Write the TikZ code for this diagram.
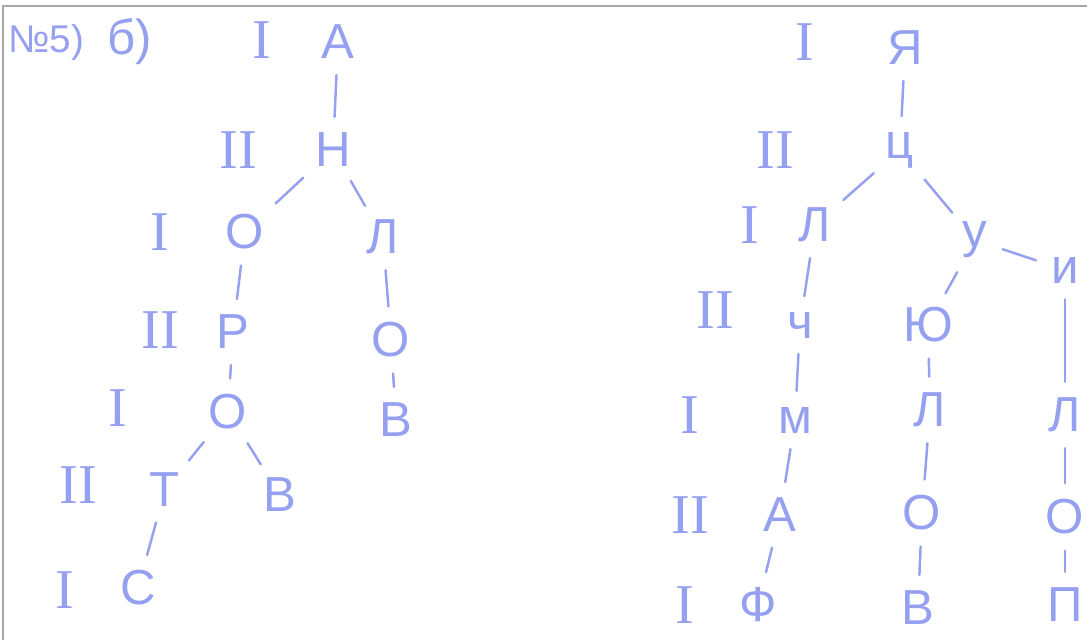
\documentclass[tikz,border=0pt]{standalone}
\usepackage{fontspec}
\setmainfont{Liberation Sans}
\newfontfamily\romanfont{Liberation Serif}
\definecolor{handblue}{RGB}{150,160,240}

\tikzset{
  letter/.style={text=handblue, inner sep=0pt, font=\fontsize{28}{34}\selectfont},
  level/.style={text=handblue, inner sep=0pt, font=\romanfont\fontsize{32}{38}\selectfont},
  branch/.style={draw=handblue, line width=1.4pt, line cap=round, shorten <=9pt, shorten >=9pt}
}

\begin{document}
\begin{tikzpicture}[x=0.02cm, y=-0.02cm]

  \useasboundingbox (0,0) rectangle (1087,640);

  % frame of the scan
  \draw[gray!70, line width=1.2pt] (3,640) -- (3,6) -- (1087,6);

  % heading
  \node[letter, font=\fontsize{22}{28}\selectfont] (num) at (46,42) {№5)};
  \node[letter] (sub) at (130,42) {б)};

  % left tree
  \node[letter] (a) at (338,42) {А};
  \node[letter] (n) at (333,150) {Н};
  \node[letter] (o1) at (245,232) {О};
  \node[letter] (l1) at (383,237) {Л};
  \node[letter] (r) at (233,332) {Р};
  \node[letter] (o2) at (391,340) {О};
  \node[letter] (o3) at (228,412) {О};
  \node[letter] (v1) at (396,420) {В};
  \node[letter] (t) at (165,490) {Т};
  \node[letter] (v2) at (280,495) {В};
  \node[letter] (s) at (138,588) {С};

  \node[level] at (262,40) {I};
  \node[level] at (238,150) {II};
  \node[level] at (160,232) {I};
  \node[level] at (160,330) {II};
  \node[level] at (118,408) {I};
  \node[level] at (78,485) {II};
  \node[level] at (65,590) {I};

  \draw[branch] (a) -- (n);
  \draw[branch] (n) -- (o1);
  \draw[branch] (n) -- (l1);
  \draw[branch] (o1) -- (r);
  \draw[branch] (l1) -- (o2);
  \draw[branch] (r) -- (o3);
  \draw[branch] (o2) -- (v1);
  \draw[branch] (o3) -- (t);
  \draw[branch] (o3) -- (v2);
  \draw[branch] (t) -- (s);

  % right tree
  \node[letter] (ya) at (905,48) {Я};
  \node[letter] (c) at (900,150) {ц};
  \node[letter] (l2) at (815,225) {Л};
  \node[letter] (u) at (975,240) {у};
  \node[letter] (i) at (1065,270) {и};
  \node[letter] (ch) at (800,325) {ч};
  \node[letter] (yu) at (928,325) {Ю};
  \node[letter] (m) at (795,420) {м};
  \node[letter] (l3) at (930,410) {Л};
  \node[letter] (l4) at (1065,415) {Л};
  \node[letter] (a2) at (780,515) {А};
  \node[letter] (o4) at (922,513) {О};
  \node[letter] (o5) at (1065,517) {О};
  \node[letter] (f) at (758,605) {Ф};
  \node[letter] (v3) at (918,608) {В};
  \node[letter] (p) at (1065,605) {П};

  \node[level] at (805,42) {I};
  \node[level] at (775,150) {II};
  \node[level] at (750,225) {I};
  \node[level] at (715,310) {II};
  \node[level] at (690,415) {I};
  \node[level] at (690,515) {II};
  \node[level] at (685,605) {I};

  \draw[branch] (ya) -- (c);
  \draw[branch] (c) -- (l2);
  \draw[branch] (c) -- (u);
  \draw[branch] (u) -- (i);
  \draw[branch] (u) -- (yu);
  \draw[branch] (l2) -- (ch);
  \draw[branch] (ch) -- (m);
  \draw[branch] (m) -- (a2);
  \draw[branch] (a2) -- (f);
  \draw[branch] (yu) -- (l3);
  \draw[branch] (l3) -- (o4);
  \draw[branch] (o4) -- (v3);
  \draw[branch] (i) -- (l4);
  \draw[branch] (l4) -- (o5);
  \draw[branch] (o5) -- (p);

\end{tikzpicture}
\end{document}
